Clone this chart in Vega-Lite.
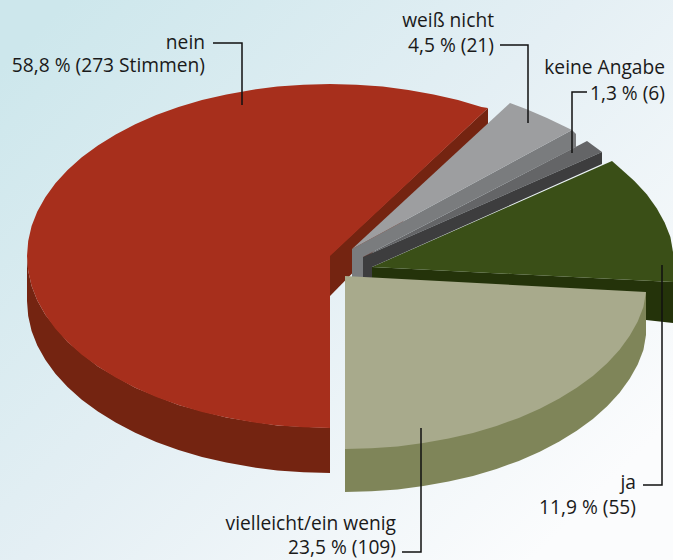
{"$schema":"https://vega.github.io/schema/vega-lite/v6.json","width":673,"height":560,"padding":0,"autosize":{"type":"none"},"background":"#ffffff","view":{"stroke":null},
"datasets":{
"shapes":[
{"part":"nein Seite","seq":1,"x":27,"y":256},{"part":"nein Seite","seq":2,"x":28.2,"y":271},{"part":"nein Seite","seq":3,"x":31.6,"y":285.9},{"part":"nein Seite","seq":4,"x":37.3,"y":300.5},{"part":"nein Seite","seq":5,"x":45.3,"y":314.8},{"part":"nein Seite","seq":6,"x":67.6,"y":342},{"part":"nein Seite","seq":7,"x":97.9,"y":366.6},{"part":"nein Seite","seq":8,"x":135.2,"y":387.8},{"part":"nein Seite","seq":9,"x":178.5,"y":405},{"part":"nein Seite","seq":10,"x":226.4,"y":417.6},{"part":"nein Seite","seq":11,"x":277.4,"y":425.4},{"part":"nein Seite","seq":12,"x":330,"y":428},{"part":"nein Seite","seq":13,"x":330,"y":473},{"part":"nein Seite","seq":14,"x":303.6,"y":472.3},{"part":"nein Seite","seq":15,"x":277.4,"y":470.4},{"part":"nein Seite","seq":16,"x":251.6,"y":467.1},{"part":"nein Seite","seq":17,"x":226.4,"y":462.6},{"part":"nein Seite","seq":18,"x":202,"y":456.9},{"part":"nein Seite","seq":19,"x":178.5,"y":450},{"part":"nein Seite","seq":20,"x":156.2,"y":441.9},{"part":"nein Seite","seq":21,"x":135.2,"y":432.8},{"part":"nein Seite","seq":22,"x":115.7,"y":422.6},{"part":"nein Seite","seq":23,"x":97.9,"y":411.6},{"part":"nein Seite","seq":24,"x":81.8,"y":399.7},{"part":"nein Seite","seq":25,"x":67.6,"y":387},{"part":"nein Seite","seq":26,"x":55.4,"y":373.7},{"part":"nein Seite","seq":27,"x":45.3,"y":359.8},{"part":"nein Seite","seq":28,"x":37.3,"y":345.5},{"part":"nein Seite","seq":29,"x":31.6,"y":330.9},{"part":"nein Seite","seq":30,"x":28.2,"y":316},{"part":"nein Seite","seq":31,"x":27,"y":301},
{"part":"nein Schnitt","seq":1,"x":488,"y":108},{"part":"nein Schnitt","seq":2,"x":488,"y":135},{"part":"nein Schnitt","seq":3,"x":330,"y":296},{"part":"nein Schnitt","seq":4,"x":330,"y":255},
{"part":"nein","seq":1,"x":330,"y":256},{"part":"nein","seq":2,"x":488,"y":108},{"part":"nein","seq":3,"x":481.5,"y":107},{"part":"nein","seq":4,"x":458,"y":100.1},{"part":"nein","seq":5,"x":433.6,"y":94.4},{"part":"nein","seq":6,"x":408.4,"y":89.9},{"part":"nein","seq":7,"x":382.6,"y":86.6},{"part":"nein","seq":8,"x":356.4,"y":84.7},{"part":"nein","seq":9,"x":330,"y":84},{"part":"nein","seq":10,"x":303.6,"y":84.7},{"part":"nein","seq":11,"x":277.4,"y":86.6},{"part":"nein","seq":12,"x":251.6,"y":89.9},{"part":"nein","seq":13,"x":226.4,"y":94.4},{"part":"nein","seq":14,"x":202,"y":100.1},{"part":"nein","seq":15,"x":178.5,"y":107},{"part":"nein","seq":16,"x":156.2,"y":115.1},{"part":"nein","seq":17,"x":135.2,"y":124.2},{"part":"nein","seq":18,"x":115.7,"y":134.4},{"part":"nein","seq":19,"x":97.9,"y":145.4},{"part":"nein","seq":20,"x":81.8,"y":157.3},{"part":"nein","seq":21,"x":67.6,"y":170},{"part":"nein","seq":22,"x":55.4,"y":183.3},{"part":"nein","seq":23,"x":45.3,"y":197.2},{"part":"nein","seq":24,"x":37.3,"y":211.5},{"part":"nein","seq":25,"x":31.6,"y":226.1},{"part":"nein","seq":26,"x":28.2,"y":241},{"part":"nein","seq":27,"x":27,"y":256},{"part":"nein","seq":28,"x":28.2,"y":271},{"part":"nein","seq":29,"x":31.6,"y":285.9},{"part":"nein","seq":30,"x":37.3,"y":300.5},{"part":"nein","seq":31,"x":45.3,"y":314.8},{"part":"nein","seq":32,"x":55.4,"y":328.7},{"part":"nein","seq":33,"x":67.6,"y":342},{"part":"nein","seq":34,"x":81.8,"y":354.7},{"part":"nein","seq":35,"x":97.9,"y":366.6},{"part":"nein","seq":36,"x":115.7,"y":377.6},{"part":"nein","seq":37,"x":135.2,"y":387.8},{"part":"nein","seq":38,"x":156.2,"y":396.9},{"part":"nein","seq":39,"x":178.5,"y":405},{"part":"nein","seq":40,"x":202,"y":411.9},{"part":"nein","seq":41,"x":226.4,"y":417.6},{"part":"nein","seq":42,"x":251.6,"y":422.1},{"part":"nein","seq":43,"x":277.4,"y":425.4},{"part":"nein","seq":44,"x":303.6,"y":427.3},{"part":"nein","seq":45,"x":330,"y":428},
{"part":"ja Schnitt","seq":1,"x":372,"y":267},{"part":"ja Schnitt","seq":2,"x":673,"y":282},{"part":"ja Schnitt","seq":3,"x":673,"y":323},{"part":"ja Schnitt","seq":4,"x":646,"y":320},{"part":"ja Schnitt","seq":5,"x":372,"y":320},
{"part":"ja","seq":1,"x":372,"y":267},{"part":"ja","seq":2,"x":612,"y":161},{"part":"ja","seq":3,"x":620.2,"y":168.3},{"part":"ja","seq":4,"x":634.4,"y":181},{"part":"ja","seq":5,"x":646.7,"y":194.3},{"part":"ja","seq":6,"x":656.7,"y":208.2},{"part":"ja","seq":7,"x":664.6,"y":222.5},{"part":"ja","seq":8,"x":670.4,"y":237.1},{"part":"ja","seq":9,"x":673,"y":252},{"part":"ja","seq":10,"x":673,"y":282},
{"part":"keine Angabe","seq":1,"x":363,"y":257},{"part":"keine Angabe","seq":2,"x":587,"y":141},{"part":"keine Angabe","seq":3,"x":602,"y":152},
{"part":"keine Angabe Schnitt","seq":1,"x":363,"y":257},{"part":"keine Angabe Schnitt","seq":2,"x":602,"y":152},{"part":"keine Angabe Schnitt","seq":3,"x":602,"y":164},{"part":"keine Angabe Schnitt","seq":4,"x":372,"y":267},{"part":"keine Angabe Schnitt","seq":5,"x":372,"y":282},{"part":"keine Angabe Schnitt","seq":6,"x":363,"y":282},
{"part":"weiß nicht Schnitt","seq":1,"x":352,"y":249},{"part":"weiß nicht Schnitt","seq":2,"x":572,"y":130},{"part":"weiß nicht Schnitt","seq":3,"x":576,"y":134},{"part":"weiß nicht Schnitt","seq":4,"x":576,"y":147},{"part":"weiß nicht Schnitt","seq":5,"x":363,"y":257},{"part":"weiß nicht Schnitt","seq":6,"x":363,"y":282},{"part":"weiß nicht Schnitt","seq":7,"x":352,"y":282},
{"part":"weiß nicht","seq":1,"x":352,"y":249},{"part":"weiß nicht","seq":2,"x":510,"y":103},{"part":"weiß nicht","seq":3,"x":526,"y":109},{"part":"weiß nicht","seq":4,"x":547,"y":118},{"part":"weiß nicht","seq":5,"x":572,"y":130},
{"part":"vielleicht Seite","seq":1,"x":646,"y":292},{"part":"vielleicht Seite","seq":2,"x":646,"y":335},{"part":"vielleicht Seite","seq":3,"x":643.4,"y":349.9},{"part":"vielleicht Seite","seq":4,"x":637.7,"y":364.5},{"part":"vielleicht Seite","seq":5,"x":629.7,"y":378.8},{"part":"vielleicht Seite","seq":6,"x":619.6,"y":392.7},{"part":"vielleicht Seite","seq":7,"x":607.4,"y":406},{"part":"vielleicht Seite","seq":8,"x":593.2,"y":418.7},{"part":"vielleicht Seite","seq":9,"x":577.1,"y":430.6},{"part":"vielleicht Seite","seq":10,"x":559.3,"y":441.6},{"part":"vielleicht Seite","seq":11,"x":539.8,"y":451.8},{"part":"vielleicht Seite","seq":12,"x":518.8,"y":460.9},{"part":"vielleicht Seite","seq":13,"x":496.5,"y":469},{"part":"vielleicht Seite","seq":14,"x":473,"y":475.9},{"part":"vielleicht Seite","seq":15,"x":448.6,"y":481.6},{"part":"vielleicht Seite","seq":16,"x":423.4,"y":486.1},{"part":"vielleicht Seite","seq":17,"x":397.6,"y":489.4},{"part":"vielleicht Seite","seq":18,"x":371.4,"y":491.3},{"part":"vielleicht Seite","seq":19,"x":345,"y":492},{"part":"vielleicht Seite","seq":20,"x":345,"y":449},
{"part":"vielleicht","seq":1,"x":345,"y":276},{"part":"vielleicht","seq":2,"x":646,"y":292},{"part":"vielleicht","seq":3,"x":643.4,"y":306.9},{"part":"vielleicht","seq":4,"x":637.7,"y":321.5},{"part":"vielleicht","seq":5,"x":629.7,"y":335.8},{"part":"vielleicht","seq":6,"x":619.6,"y":349.7},{"part":"vielleicht","seq":7,"x":607.4,"y":363},{"part":"vielleicht","seq":8,"x":593.2,"y":375.7},{"part":"vielleicht","seq":9,"x":577.1,"y":387.6},{"part":"vielleicht","seq":10,"x":559.3,"y":398.6},{"part":"vielleicht","seq":11,"x":539.8,"y":408.8},{"part":"vielleicht","seq":12,"x":518.8,"y":417.9},{"part":"vielleicht","seq":13,"x":496.5,"y":426},{"part":"vielleicht","seq":14,"x":473,"y":432.9},{"part":"vielleicht","seq":15,"x":448.6,"y":438.6},{"part":"vielleicht","seq":16,"x":423.4,"y":443.1},{"part":"vielleicht","seq":17,"x":397.6,"y":446.4},{"part":"vielleicht","seq":18,"x":371.4,"y":448.3},{"part":"vielleicht","seq":19,"x":345,"y":449}
],
"leaders":[
{"leader":"nein","seq":1,"x":213,"y":43},{"leader":"nein","seq":2,"x":242,"y":43},{"leader":"nein","seq":3,"x":242,"y":105},
{"leader":"weiß nicht","seq":1,"x":500,"y":45},{"leader":"weiß nicht","seq":2,"x":528,"y":45},{"leader":"weiß nicht","seq":3,"x":528,"y":123},
{"leader":"keine Angabe","seq":1,"x":587,"y":92},{"leader":"keine Angabe","seq":2,"x":572,"y":92},{"leader":"keine Angabe","seq":3,"x":572,"y":153},
{"leader":"ja","seq":1,"x":662,"y":265},{"leader":"ja","seq":2,"x":662,"y":485},{"leader":"ja","seq":3,"x":643,"y":485},
{"leader":"vielleicht","seq":1,"x":421,"y":428},{"leader":"vielleicht","seq":2,"x":421,"y":552},{"leader":"vielleicht","seq":3,"x":402,"y":552}
],
"labels":[
{"text":"nein","x":205,"y":49},{"text":"58,8 % (273 Stimmen)","x":205,"y":72},
{"text":"weiß nicht","x":494,"y":27},{"text":"4,5 % (21)","x":494,"y":52},
{"text":"keine Angabe","x":665,"y":74},{"text":"1,3 % (6)","x":665,"y":100},
{"text":"ja","x":636,"y":489},{"text":"11,9 % (55)","x":636,"y":514},
{"text":"vielleicht/ein wenig","x":396,"y":530},{"text":"23,5 % (109)","x":396,"y":554}
]},
"layer":[
{"data":{"values":[{"x0":0,"x1":673,"y0":0,"y1":560}]},"mark":{"type":"rect","fill":{"gradient":"linear","x1":0.1,"y1":0,"x2":1,"y2":0.75,"stops":[{"offset":0,"color":"#cde7ec"},{"offset":0.5,"color":"#e4eff4"},{"offset":1,"color":"#fbfcfd"}]}},
"encoding":{"x":{"field":"x0","type":"quantitative","scale":{"domain":[0,673],"nice":false,"zero":false},"axis":null},"x2":{"field":"x1"},"y":{"field":"y0","type":"quantitative","scale":{"domain":[560,0],"nice":false,"zero":false},"axis":null},"y2":{"field":"y1"}}},
{"data":{"name":"shapes"},"mark":{"type":"line","strokeWidth":0,"clip":true},
"encoding":{"x":{"field":"x","type":"quantitative","scale":{"domain":[0,673],"nice":false,"zero":false},"axis":null},"y":{"field":"y","type":"quantitative","scale":{"domain":[560,0],"nice":false,"zero":false},"axis":null},"order":{"field":"seq","type":"quantitative"},"detail":{"field":"part"},
"fill":{"field":"part","type":"nominal","legend":null,"scale":{"domain":["nein Seite","nein Schnitt","nein","ja Schnitt","ja","keine Angabe","keine Angabe Schnitt","weiß nicht Schnitt","weiß nicht","vielleicht Seite","vielleicht"],"range":["#742411","#742411","#a72f1c","#24330a","#3a4f17","#646567","#3d3d3e","#7a7c7e","#9d9ea0","#7f8559","#a8aa8c"]}}}},
{"data":{"name":"leaders"},"mark":{"type":"line","stroke":"#111111","strokeWidth":1.5},
"encoding":{"x":{"field":"x","type":"quantitative","scale":{"domain":[0,673],"nice":false,"zero":false},"axis":null},"y":{"field":"y","type":"quantitative","scale":{"domain":[560,0],"nice":false,"zero":false},"axis":null},"order":{"field":"seq","type":"quantitative"},"detail":{"field":"leader"}}},
{"data":{"name":"labels"},"mark":{"type":"text","align":"right","baseline":"alphabetic","font":"Open Sans","fontSize":19.2,"color":"#1a1a1a"},
"encoding":{"x":{"field":"x","type":"quantitative","scale":{"domain":[0,673],"nice":false,"zero":false},"axis":null},"y":{"field":"y","type":"quantitative","scale":{"domain":[560,0],"nice":false,"zero":false},"axis":null},"text":{"field":"text"}}}
]}
